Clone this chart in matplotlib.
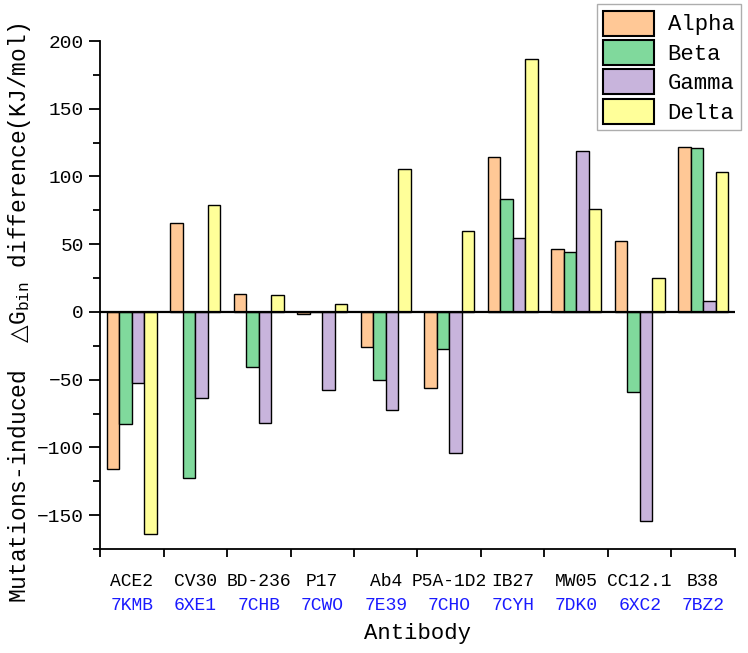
import numpy as np
import matplotlib
matplotlib.use('Agg')
import matplotlib.pyplot as plt
import matplotlib.transforms as mtransforms

# Datos
antibodies = ['ACE2', 'CV30', 'BD-236', 'P17', 'Ab4', 'P5A-1D2', 'IB27', 'MW05', 'CC12.1', 'B38']
pdb_codes = ['7KMB', '6XE1', '7CHB', '7CWO', '7E39', '7CHO', '7CYH', '7DK0', '6XC2', '7BZ2']

alpha = [-116, 65.7, 13.3, -1.2, -25.6, -56.1, 114.1, 46.7, 52.2, 121.5]
beta = [-82.4, -122.5, -41, 0, -50.2, -27.6, 83.6, 44.3, -58.8, 120.8]
gamma = [-52.4, -63.2, -82.2, -57.3, -72.3, -104, 54.9, 118.8, -154.5, 7.9]
delta = [-164.3, 78.7, 12.5, 5.7, 105.5, 59.5, 186.7, 76.3, 25.3, 103.3]

variants = ['Alpha', 'Beta', 'Gamma', 'Delta']
colors = ['#FFC896', '#80D99C', '#C8B4DC', '#FFFF99']

plt.rcParams['font.family'] = ['Liberation Mono', 'DejaVu Sans']
plt.rcParams['mathtext.fontset'] = 'custom'
plt.rcParams['mathtext.rm'] = 'Liberation Mono'
plt.rcParams['mathtext.sf'] = 'DejaVu Sans'

fig = plt.figure(figsize=(7.48, 6.53), dpi=100)
ax = fig.add_axes([0.1337, 0.1593, 0.8489, 0.7779])

x = np.arange(len(antibodies))
w = 0.195
series = [alpha, beta, gamma, delta]
for i, vals in enumerate(series):
    ax.bar(x + (i - 1.5) * w, vals, width=w, color=colors[i], edgecolor='black',
           linewidth=1, label=variants[i], zorder=2)

ax.axhline(0, color='black', linewidth=1.6, zorder=3)

ax.set_xlim(-0.5, len(antibodies) - 0.5)
ax.set_ylim(-175, 200)
ax.set_yticks(np.arange(-150, 201, 50))
ax.set_yticks(np.arange(-175, 201, 25), minor=True)
ax.set_xticks(x)
ax.set_xticklabels(antibodies, fontsize=13)
ax.set_xticks(np.arange(-0.5, len(antibodies), 1), minor=True)
ax.tick_params(axis='x', which='major', length=0, pad=17)
ax.tick_params(axis='x', which='minor', length=6, width=1.3)
ax.tick_params(axis='y', which='major', length=8, width=1.3, labelsize=14)
ax.tick_params(axis='y', which='minor', length=5, width=1.3)

for s in ['top', 'right']:
    ax.spines[s].set_visible(False)
for s in ['left', 'bottom']:
    ax.spines[s].set_linewidth(1.3)

trans = mtransforms.blended_transform_factory(ax.transData, ax.transAxes)
for xi, code in zip(x, pdb_codes):
    ax.text(xi, -0.112, code, color='#1a1aff', fontsize=13, ha='center', va='center',
            transform=trans)

ax.set_xlabel('Antibody', fontsize=16, labelpad=24)
ax.set_ylabel('Mutations-induced  $\\mathsf{\u25b3}$G$_{\\mathrm{bin}}$ difference(KJ/mol)',
              fontsize=16.5)
ax.yaxis.set_label_coords(-0.106, 0.465)

leg = fig.legend(loc='upper right', bbox_to_anchor=(0.991, 0.994), fontsize=16,
                 frameon=True, fancybox=False, edgecolor='#999999', handlelength=2.3,
                 handleheight=1.35, handletextpad=0.6, labelspacing=0.2, borderpad=0.3,
                 borderaxespad=0)
for p in leg.get_patches():
    p.set_linewidth(1.5)

plt.savefig('out.png', dpi=100)
